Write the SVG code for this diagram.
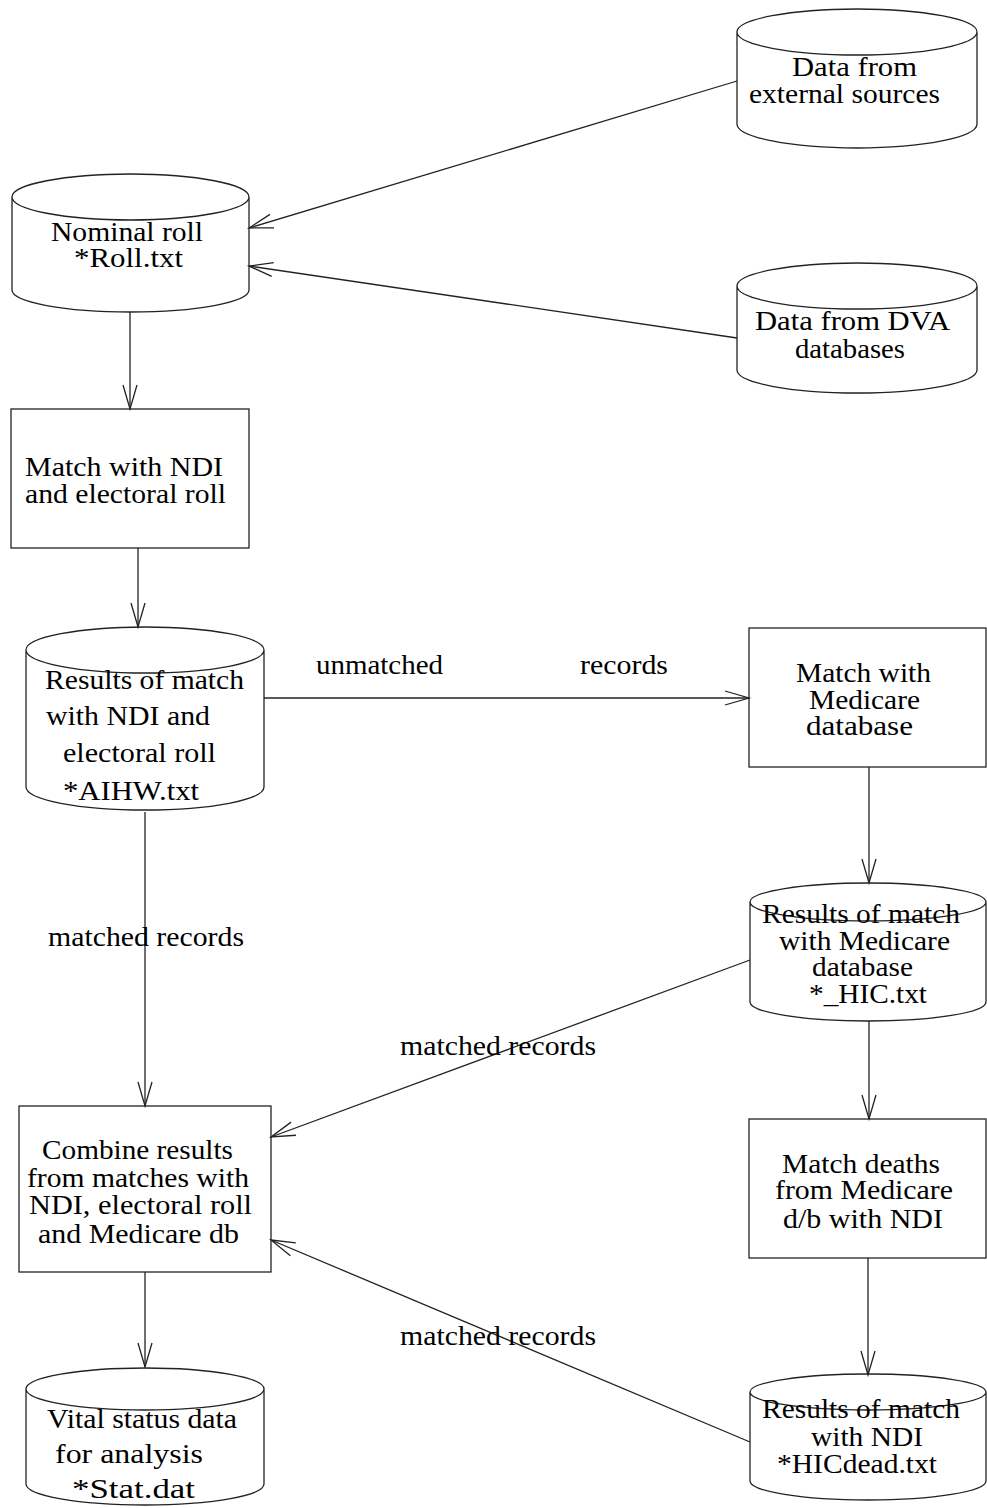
<svg xmlns="http://www.w3.org/2000/svg" width="987" height="1508" viewBox="0 0 987 1508">
<style>
.s{fill:none;stroke:#222;stroke-width:1.3}
.t{font-family:"Liberation Serif","Times New Roman",serif;font-size:27px;fill:#000}
.c{fill:none;stroke:#222;stroke-width:1.3}
</style>
<defs>
<marker id="ah" markerUnits="userSpaceOnUse" markerWidth="30" markerHeight="20" viewBox="-26 -10 28 20" refX="0" refY="0" orient="auto">
<path d="M-24,-7 L0,0 L-24,7" fill="none" stroke="#222" stroke-width="1.3"/>
</marker>
</defs>
<rect width="987" height="1508" fill="#fff"/>
<g id="connectors">
<line class="c" x1="737" y1="81" x2="249" y2="228" marker-end="url(#ah)"/>
<line class="c" x1="737" y1="338" x2="249" y2="266" marker-end="url(#ah)"/>
<line class="c" x1="130" y1="312" x2="130" y2="409" marker-end="url(#ah)"/>
<line class="c" x1="138" y1="548" x2="138" y2="627" marker-end="url(#ah)"/>
<line class="c" x1="264" y1="698" x2="749" y2="698" marker-end="url(#ah)"/>
<line class="c" x1="145" y1="812" x2="145" y2="1106" marker-end="url(#ah)"/>
<line class="c" x1="869" y1="767" x2="869" y2="883" marker-end="url(#ah)"/>
<line class="c" x1="750" y1="960" x2="271" y2="1137" marker-end="url(#ah)"/>
<line class="c" x1="869" y1="1021" x2="869" y2="1119" marker-end="url(#ah)"/>
<line class="c" x1="868" y1="1258" x2="868" y2="1375" marker-end="url(#ah)"/>
<line class="c" x1="750" y1="1442" x2="271" y2="1240" marker-end="url(#ah)"/>
<line class="c" x1="145" y1="1272" x2="145" y2="1367" marker-end="url(#ah)"/>
<text class="t" x="316" y="674" textLength="127" lengthAdjust="spacingAndGlyphs">unmatched</text>
<text class="t" x="580" y="674" textLength="88" lengthAdjust="spacingAndGlyphs">records</text>
<text class="t" x="48" y="946" textLength="196" lengthAdjust="spacingAndGlyphs">matched records</text>
<text class="t" x="400" y="1055" textLength="196" lengthAdjust="spacingAndGlyphs">matched records</text>
<text class="t" x="400" y="1345" textLength="196" lengthAdjust="spacingAndGlyphs">matched records</text>
</g>
<g id="ext">
<path class="s" d="M737,32 A120,23 0 0 1 977,32 A120,23 0 0 1 737,32 Z M737,32 L737,124 A120,24 0 0 0 977,124 L977,32"/>
<text class="t" x="792" y="76" textLength="125" lengthAdjust="spacingAndGlyphs">Data from</text>
<text class="t" x="749" y="103" textLength="191" lengthAdjust="spacingAndGlyphs">external sources</text>
</g>
<g id="nominal">
<path class="s" d="M12,197 A118.5,23 0 0 1 249,197 A118.5,23 0 0 1 12,197 Z M12,197 L12,290 A118.5,22 0 0 0 249,290 L249,197"/>
<text class="t" x="51" y="241" textLength="152" lengthAdjust="spacingAndGlyphs">Nominal roll</text>
<text class="t" x="74" y="267" textLength="109" lengthAdjust="spacingAndGlyphs">*Roll.txt</text>
</g>
<g id="dva">
<path class="s" d="M737,286 A120,23 0 0 1 977,286 A120,23 0 0 1 737,286 Z M737,286 L737,370 A120,23 0 0 0 977,370 L977,286"/>
<text class="t" x="755" y="330" textLength="195" lengthAdjust="spacingAndGlyphs">Data from DVA</text>
<text class="t" x="795" y="358" textLength="110" lengthAdjust="spacingAndGlyphs">databases</text>
</g>
<g id="matchndi">
<rect class="s" x="11" y="409" width="238" height="139"/>
<text class="t" x="25" y="476" textLength="198" lengthAdjust="spacingAndGlyphs">Match with NDI</text>
<text class="t" x="25" y="503" textLength="201" lengthAdjust="spacingAndGlyphs">and electoral roll</text>
</g>
<g id="aihw">
<path class="s" d="M26,650 A119,23 0 0 1 264,650 A119,23 0 0 1 26,650 Z M26,650 L26,787 A119,23 0 0 0 264,787 L264,650"/>
<text class="t" x="45" y="689" textLength="199" lengthAdjust="spacingAndGlyphs">Results of match</text>
<text class="t" x="46" y="725" textLength="164" lengthAdjust="spacingAndGlyphs">with NDI and</text>
<text class="t" x="63" y="762" textLength="153" lengthAdjust="spacingAndGlyphs">electoral roll</text>
<text class="t" x="63" y="800" textLength="136" lengthAdjust="spacingAndGlyphs">*AIHW.txt</text>
</g>
<g id="medicare">
<rect class="s" x="749" y="628" width="237" height="139"/>
<text class="t" x="796" y="682" textLength="135" lengthAdjust="spacingAndGlyphs">Match with</text>
<text class="t" x="809" y="709" textLength="111" lengthAdjust="spacingAndGlyphs">Medicare</text>
<text class="t" x="806" y="735" textLength="107" lengthAdjust="spacingAndGlyphs">database</text>
</g>
<g id="hic">
<path class="s" d="M750,902 A118,19 0 0 1 986,902 A118,19 0 0 1 750,902 Z M750,902 L750,1002 A118,19 0 0 0 986,1002 L986,902"/>
<text class="t" x="762" y="923" textLength="198" lengthAdjust="spacingAndGlyphs">Results of match</text>
<text class="t" x="779" y="950" textLength="171" lengthAdjust="spacingAndGlyphs">with Medicare</text>
<text class="t" x="812" y="976" textLength="101" lengthAdjust="spacingAndGlyphs">database</text>
<text class="t" x="809" y="1003" textLength="118" lengthAdjust="spacingAndGlyphs">*_HIC.txt</text>
</g>
<g id="combine">
<rect class="s" x="19" y="1106" width="252" height="166"/>
<text class="t" x="42" y="1159" textLength="191" lengthAdjust="spacingAndGlyphs">Combine results</text>
<text class="t" x="27" y="1187" textLength="222" lengthAdjust="spacingAndGlyphs">from matches with</text>
<text class="t" x="29" y="1214" textLength="223" lengthAdjust="spacingAndGlyphs">NDI, electoral roll</text>
<text class="t" x="38" y="1243" textLength="201" lengthAdjust="spacingAndGlyphs">and Medicare db</text>
</g>
<g id="matchdeaths">
<rect class="s" x="749" y="1119" width="237" height="139"/>
<text class="t" x="782" y="1173" textLength="158" lengthAdjust="spacingAndGlyphs">Match deaths</text>
<text class="t" x="775" y="1199" textLength="178" lengthAdjust="spacingAndGlyphs">from Medicare</text>
<text class="t" x="783" y="1228" textLength="160" lengthAdjust="spacingAndGlyphs">d/b with NDI</text>
</g>
<g id="stat">
<path class="s" d="M26,1389 A119,21 0 0 1 264,1389 A119,21 0 0 1 26,1389 Z M26,1389 L26,1484 A119,21 0 0 0 264,1484 L264,1389"/>
<text class="t" x="47" y="1428" textLength="190" lengthAdjust="spacingAndGlyphs">Vital status data</text>
<text class="t" x="55" y="1463" textLength="148" lengthAdjust="spacingAndGlyphs">for analysis</text>
<text class="t" x="72" y="1498" textLength="123" lengthAdjust="spacingAndGlyphs">*Stat.dat</text>
</g>
<g id="hicdead">
<path class="s" d="M750,1392 A118,18 0 0 1 986,1392 A118,18 0 0 1 750,1392 Z M750,1392 L750,1481 A118,19 0 0 0 986,1481 L986,1392"/>
<text class="t" x="762" y="1418" textLength="198" lengthAdjust="spacingAndGlyphs">Results of match</text>
<text class="t" x="811" y="1446" textLength="112" lengthAdjust="spacingAndGlyphs">with NDI</text>
<text class="t" x="777" y="1473" textLength="160" lengthAdjust="spacingAndGlyphs">*HICdead.txt</text>
</g>
</svg>
